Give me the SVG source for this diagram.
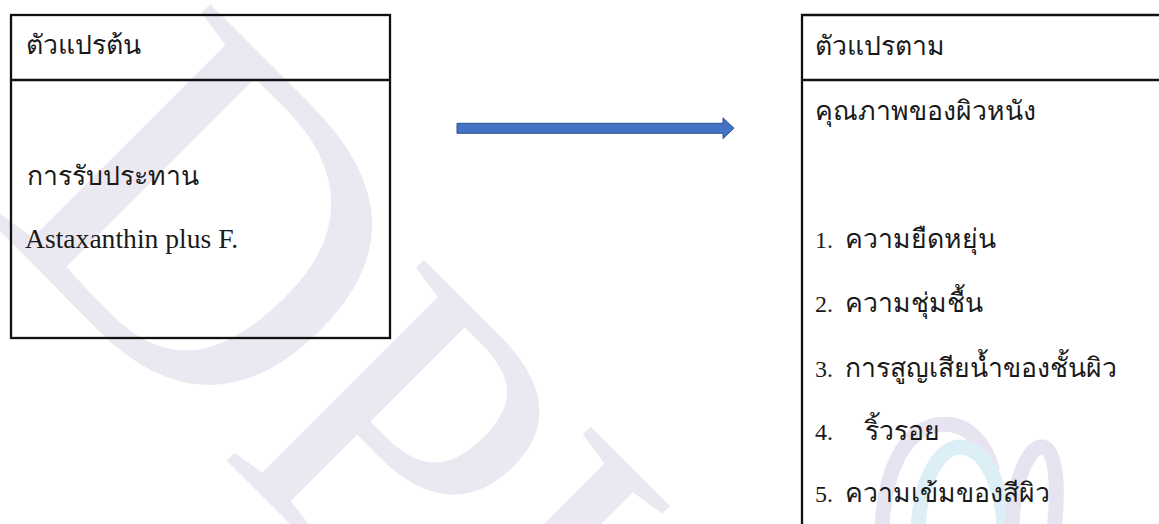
<svg xmlns="http://www.w3.org/2000/svg" width="1159" height="524" viewBox="0 0 1159 524">
  <style>
    .frame { fill: none; stroke: #111111; stroke-width: 2.3; }
    .th { font-family: "Liberation Serif", serif; font-size: 26.6px; fill: #1a1a1a; }
    .num { font-family: "Liberation Serif", serif; font-size: 24px; fill: #1a1a1a; }
    .lat { font-family: "Liberation Serif", serif; font-size: 27.6px; fill: #1a1a1a; }
    .mark { font-family: "Liberation Serif", serif; fill: #ECE8F2; }
  </style>

  <rect width="1159" height="524" fill="#ffffff"/>

  <!-- background watermark -->
  <g id="watermark">
    <text class="mark" font-size="472" transform="translate(-18,213) rotate(45)">D</text>
    <text class="mark" font-size="430" transform="translate(216,450) rotate(45)">PU</text>
    <g fill="none" stroke-width="15" stroke-linecap="round">
      <path d="M 882,530 C 884,470 905,430 937,425 C 968,420 985,445 992,468" stroke="#E8E3F0"/>
      <path d="M 918,530 C 920,480 940,445 962,447 C 990,450 1003,495 1004,530" stroke="#DDEFF6"/>
      <path d="M 1012,530 C 1012,485 1028,445 1043,447 C 1058,450 1058,495 1054,530" stroke="#E8E3F0"/>
    </g>
  </g>

  <!-- independent variable box -->
  <g id="node-independent">
    <rect class="frame" x="11" y="15" width="379" height="323"/>
    <line class="frame" x1="11" y1="80" x2="390" y2="80"/>
    <text class="th" x="26" y="54">ตัวแปรต้น</text>
    <text class="th" x="27" y="185">การรับประทาน</text>
    <text class="lat" x="25" y="248">Astaxanthin plus F.</text>
  </g>

  <!-- dependent variable box (runs past the right and bottom edges) -->
  <g id="node-dependent">
    <path class="frame" d="M 802,540 V 15 H 1170"/>
    <line class="frame" x1="802" y1="80" x2="1170" y2="80"/>
    <text class="th" x="815" y="55">ตัวแปรตาม</text>
    <text class="th" x="815" y="120">คุณภาพของผิวหนัง</text>
    <text x="815" y="248"><tspan class="num">1.</tspan><tspan class="th" x="845">ความยืดหยุ่น</tspan></text>
    <text x="815" y="311.5"><tspan class="num">2.</tspan><tspan class="th" x="845">ความชุ่มชื้น</tspan></text>
    <text x="815" y="376.5"><tspan class="num">3.</tspan><tspan class="th" x="845">การสูญเสียน้ำของชั้นผิว</tspan></text>
    <text x="815" y="440"><tspan class="num">4.</tspan><tspan class="th" x="865">ริ้วรอย</tspan></text>
    <text x="815" y="502"><tspan class="num">5.</tspan><tspan class="th" x="845">ความเข้มของสีผิว</tspan></text>
  </g>

  <!-- block arrow between the boxes -->
  <g id="connectors">
    <polygon points="457,123.3 723,123.3 723,117.8 734,128.3 723,138.6 723,133.3 457,133.3" fill="#4472C4" stroke="#2F528F" stroke-width="1"/>
  </g>
</svg>
